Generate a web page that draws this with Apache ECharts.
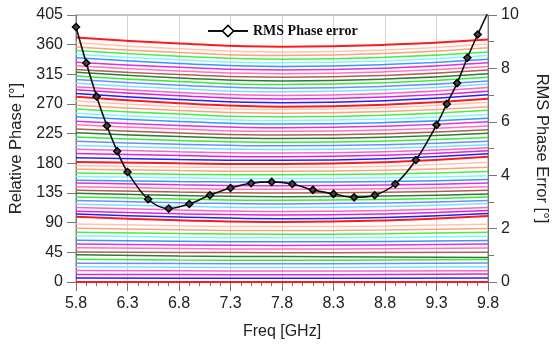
<!DOCTYPE html>
<html><head><meta charset="utf-8">
<script src="https://cdn.jsdelivr.net/npm/echarts@6/dist/echarts.min.js"></script>
<style>html,body{margin:0;padding:0;background:#fff;overflow:hidden}#c{width:558px;height:346px}</style>
</head><body><div id="c"></div>
<script>
// Frequencies (GHz) at which phase-state curves are sampled
const phaseFreqs = [5.8, 6.8, 7.8, 8.8, 9.8];
// Relative phase (deg) of each of the 65 curves at each sampled frequency
const phaseAt58 = [0,6,11.5,17.5,23,28.5,34.5,41.5,45.5,52,57.5,63.5,70,75.5,81.5,88,99,103,107.5,113,118,123.5,129,134.5,139,144.5,150,154.5,160,165.5,171,176.5,182,188.5,195,201.5,207,213.5,220,226.5,232,238.5,244,250.5,256,262.5,268,274.5,281,286,291.5,296,301.5,307,312.5,318,322.5,328,333.5,340,345.5,351,356.5,363,371];
const phaseAt68 = [0,5.7,11.2,16.9,22.4,27.9,33.5,39.5,44.9,50.7,56.2,61.9,68,73.5,79.2,85.4,93.8,98.5,103.6,109.1,114.8,120.3,125.8,131.3,136.4,141.9,147.4,152.6,158,163.5,169,174.5,180,185.9,191.8,197.6,203.1,209,214.8,220.7,226.2,232,237.5,243.4,248.9,254.7,260.2,266,271.3,276.9,282.4,287.6,293,298.6,304,309.6,314.7,320.2,325.7,331.6,337,342.6,348,353.9,361.9];
const phaseAt78 = [0,5.5,11,16.5,22,27.5,33,38.5,44.5,50,55.5,61,67,72.5,78,84,91,96,101.5,107,113,118.5,124,129.5,135,140.5,146,151.5,157,162.5,168,173.5,179,184.5,190,195.5,201,206.5,212,217.5,223,228.5,234,239.5,245,250.5,256,261.5,266,272,277.5,283,288.5,294,299.5,305,310.5,316,321.5,327,332.5,338,343.5,349,357];
const phaseAt88 = [0,5.6,11.2,16.6,22.3,27.9,33.3,38.1,44.6,50.4,56,61.5,67.6,73.3,78.8,84.9,93.3,98,103.3,108.5,114.5,119.8,125.3,130.5,136,141.5,147,152.5,158,163.8,169.5,175.5,181.8,187,192.3,197.5,202.8,208.3,213.8,219.5,225,230.5,236.3,241.8,247.3,253,258.5,264.3,269,275,280.5,286,291.5,296.8,302.3,307.8,313.3,318.8,324.3,329.8,335.3,340.8,346.5,352,359.8];
const phaseAt98 = [0,6,12,17,23,29,34,37,45,51.5,57.5,63,69.5,75.5,81,87.5,100,104,108.5,113,119,123.5,129,133.5,139,144.5,150,155.5,161,167.5,174,181.5,190,194.5,199,203.5,208,213.5,219,225.5,231,236.5,243,248.5,254,260.5,266,272.5,278,284,289.5,295,300.5,305,310.5,316,321.5,327,332.5,338,343.5,349,355.5,361,368];
// RMS phase error (deg)
const rmsFreqs = [5.8,5.9,6.0,6.1,6.2,6.3,6.5,6.7,6.9,7.1,7.3,7.5,7.7,7.9,8.1,8.3,8.5,8.7,8.9,9.1,9.3,9.4,9.5,9.6,9.7,9.8];
const rmsValues = [9.55,8.2,6.95,5.85,4.9,4.12,3.1,2.75,2.92,3.25,3.52,3.7,3.75,3.67,3.45,3.3,3.17,3.25,3.67,4.57,5.88,6.67,7.45,8.4,9.27,10.1];
// Tick labels
const xTickLabels = ['5.8','6.3','6.8','7.3','7.8','8.3','8.8','9.3','9.8'];
const leftTicks = [0,45,90,135,180,225,270,315,360,405];
const rightTicks = [0,2,4,6,8,10];

const lineColors = ['#ff1a1a','#2020ff','#e020e0','#ff60c8','#70e4ff','#6f8cff','#33ee33','#2f7a3a',
                    '#b06050','#ff70c0','#e030e0','#3399ff','#88f0ff','#44f044','#ffa080','#ffc4b0'];
const X0 = 5.8;
const phaseArrays = [phaseAt58, phaseAt68, phaseAt78, phaseAt88, phaseAt98];
const FONT = '"Liberation Sans",Arial,sans-serif';

const series = [];
for (let k = 0; k < phaseAt78.length; k++) {
  const c = lineColors[k % 16];
  series.push({
    type: 'line', name: 'state' + k, yAxisIndex: 0, smooth: true, showSymbol: false, silent: true,
    lineStyle: { color: c, width: (k % 16 === 0) ? 2 : 1.5 }, itemStyle: { color: c },
    data: phaseFreqs.map((f, i) => [f - X0, phaseArrays[i][k]]), z: 2
  });
}
series.push({
  type: 'line', name: 'RMS Phase error', yAxisIndex: 1, smooth: 0.35,
  symbol: 'diamond', symbolSize: 7,
  lineStyle: { color: '#111', width: 1.6 },
  itemStyle: { color: '#444', borderColor: '#000', borderWidth: 1.5 },
  data: rmsFreqs.map((f, i) => (i === rmsFreqs.length - 1)
      ? { value: [f - X0, rmsValues[i]], symbol: 'none' }
      : [f - X0, rmsValues[i]]),
  z: 10
});

const chart = echarts.init(document.getElementById('c'));
chart.setOption({
  animation: false,
  backgroundColor: '#fff',
  grid: { left: 76, right: 61, top: 15, bottom: 64, show: true, borderColor: '#888', borderWidth: 1 },
  legend: {
    data: [{ name: 'RMS Phase error' }], left: 202, top: 19, itemWidth: 40, itemHeight: 14,
    itemGap: 4, selectedMode: false,
    itemStyle: { color: '#fff', borderColor: '#000', borderWidth: 1.5 },
    textStyle: { fontFamily: '"Liberation Serif","Times New Roman",serif', fontWeight: 'bold', fontSize: 14, color: '#111' }
  },
  xAxis: {
    type: 'value', min: 0, max: 4, interval: 0.5,
    name: 'Freq [GHz]', nameLocation: 'middle', nameGap: 42,
    nameTextStyle: { fontFamily: FONT, fontSize: 16, color: '#222' },
    axisLine: { lineStyle: { color: '#777' } },
    axisTick: { show: true, length: 9, lineStyle: { color: '#777' } },
    minorTick: { show: true, splitNumber: 5, length: 4, lineStyle: { color: '#777' } },
    axisLabel: { fontFamily: FONT, fontSize: 16, color: '#222', margin: 14,
      formatter: v => { const i = Math.round(v / 0.5); return xTickLabels[i] !== undefined ? xTickLabels[i] : ''; } },
    splitLine: { show: true, lineStyle: { color: '#d4d4d4', width: 1 } }
  },
  yAxis: [{
    type: 'value', min: leftTicks[0], max: leftTicks[leftTicks.length - 1], interval: 45,
    name: 'Relative Phase [°]', nameLocation: 'middle', nameGap: 50, nameRotate: 90,
    nameTextStyle: { fontFamily: FONT, fontSize: 16.5, color: '#222' },
    axisLine: { show: true, lineStyle: { color: '#777' } },
    axisTick: { show: true, length: 9, lineStyle: { color: '#777' } },
    axisLabel: { fontFamily: FONT, fontSize: 16, color: '#222', margin: 13 },
    splitLine: { show: false }
  }, {
    type: 'value', min: rightTicks[0], max: rightTicks[rightTicks.length - 1], interval: 2, position: 'right',
    name: 'RMS Phase Error [°]', nameLocation: 'middle', nameGap: 45, nameRotate: -90,
    nameTextStyle: { fontFamily: FONT, fontSize: 16.5, color: '#222' },
    axisLine: { show: true, lineStyle: { color: '#777' } },
    axisTick: { show: true, length: 9, lineStyle: { color: '#777' } },
    minorTick: { show: true, splitNumber: 2, length: 6, lineStyle: { color: '#777' } },
    axisLabel: { fontFamily: FONT, fontSize: 16, color: '#222', margin: 13 },
    splitLine: { show: false }
  }],
  series: series
});
</script></body></html>
